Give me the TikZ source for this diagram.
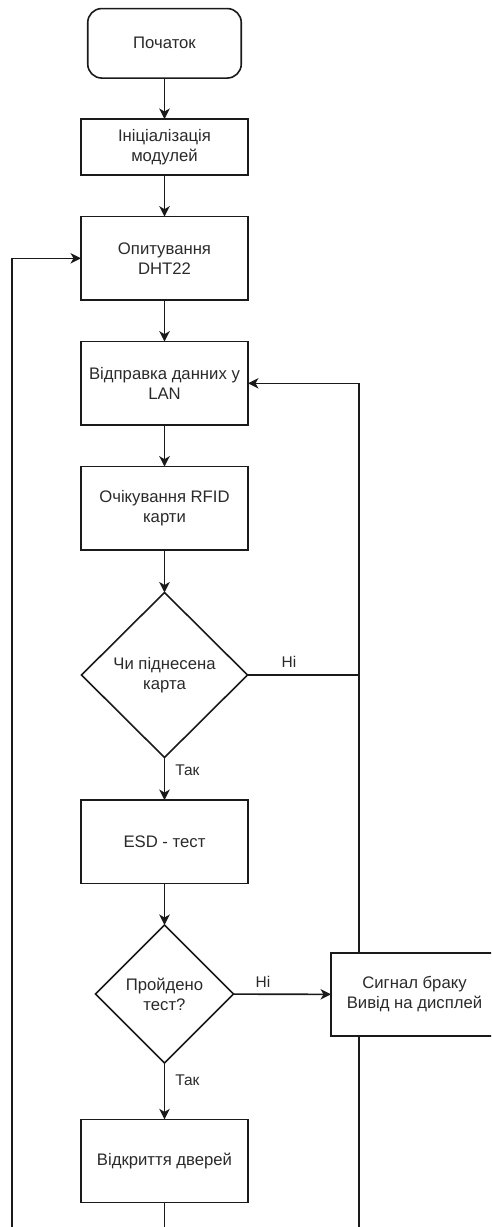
\documentclass[tikz,border=0pt]{standalone}
\usepackage{fontspec}
\setmainfont{Liberation Sans}
\usetikzlibrary{shapes.geometric,arrows.meta,calc}
\definecolor{ln}{HTML}{1A1A1A}
\definecolor{tx}{HTML}{2A2A2A}
\tikzset{
  boxstyle/.style={draw=ln, line width=1.6pt, rectangle, minimum width=167pt, minimum height=83.3pt, inner sep=0pt, outer sep=0pt, align=center, text=tx, font=\fontsize{16.7}{20}\selectfont},
  startbox/.style={boxstyle, rounded corners=14pt, minimum width=153.5pt, minimum height=69.5pt},
  decision/.style={draw=ln, line width=1.6pt, diamond, inner sep=0pt, outer sep=0pt, align=center, text=tx, font=\fontsize{16.7}{20}\selectfont},
  arr/.style={draw=ln, line width=1.6pt, -{Stealth[length=10.5pt,width=10.5pt,inset=3pt]}},
  plain/.style={draw=ln, line width=1.6pt},
  lbl/.style={text=tx, font=\fontsize{15.5}{18}\selectfont, inner sep=0pt}
}
\begin{document}
\begin{tikzpicture}[x=1pt,y=-1pt]
\useasboundingbox (0,0) rectangle (491,1227);
\clip (0,0) rectangle (491,1227);
\node[startbox] (start) at (164.5,43.3) {Початок};
\node[boxstyle, minimum height=56pt] (init) at (164.5,147) {Ініціалізація\\модулей};
\node[boxstyle] (poll) at (164.5,258.3) {Опитування\\DHT22};
\node[boxstyle] (send) at (164.5,383.3) {Відправка данних у\\LAN};
\node[boxstyle] (wait) at (164.5,508.3) {Очікування RFID\\карти};
\node[decision, minimum width=166pt, minimum height=165pt] (d1) at (164.5,675) {Чи піднесена\\карта};
\node[boxstyle] (esd) at (164.5,841.7) {ESD - тест};
\node[decision, minimum width=138pt, minimum height=138pt] (d2) at (164.5,994) {Пройдено\\тест?};
\node[boxstyle] (sig) at (414.5,994.5) {Сигнал браку\\Вивід на дисплей};
\node[boxstyle] (open) at (164.5,1161) {Відкриття дверей};
\coordinate (rx) at (359,0);
\coordinate (lx) at (11.7,1240);
\coordinate (bot) at (0,1240);

\draw[arr] (start) -- (init);
\draw[arr] (init) -- (poll);
\draw[arr] (poll) -- (send);
\draw[arr] (send) -- (wait);
\draw[arr] (wait) -- (d1);
\draw[arr] (d1) -- node[lbl, pos=0.3, right=10pt] {Так} (esd);
\draw[arr] (esd) -- (d2);
\draw[arr] (d2) -- node[lbl, pos=0.3, right=10pt] {Так} (open);
\draw[arr] (d2) -- (sig);
\node[lbl] (n2) at (263,982) {Ні};
\draw[plain] (d1.east) -- (d1.east -| rx);
\node[lbl] (n1) at (289,662) {Ні};
\draw[arr] (sig.north -| rx) |- (send.east);
\draw[plain] (sig.south -| rx) -- (bot -| rx);
\draw[plain] (open.south) -- (open.south |- bot);
\draw[arr] (lx) |- (poll.west);
\end{tikzpicture}
\end{document}
